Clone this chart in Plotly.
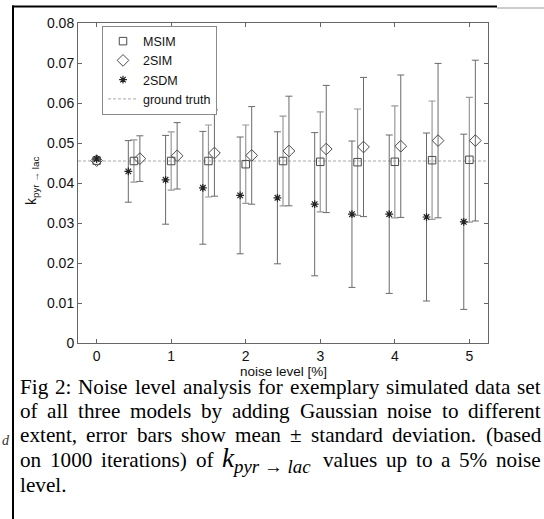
import plotly.graph_objects as go

# ---------------- data ----------------
noise_levels = [0, 0.5, 1.0, 1.5, 2.0, 2.5, 3.0, 3.5, 4.0, 4.5, 5.0]

msim_mean = [0.0456, 0.0455, 0.0455, 0.0455, 0.0447, 0.0455, 0.0453, 0.0452, 0.0453, 0.0457, 0.0458]
msim_std  = [0.0, 0.0053, 0.0073, 0.0090, 0.0098, 0.0112, 0.0125, 0.0133, 0.0140, 0.0148, 0.0156]

sim2_mean = [0.0456, 0.0461, 0.0468, 0.0475, 0.0469, 0.0480, 0.0485, 0.0490, 0.0492, 0.0506, 0.0506]
sim2_std  = [0.0, 0.0057, 0.0083, 0.0108, 0.0122, 0.0137, 0.0159, 0.0174, 0.0178, 0.0193, 0.0201]

sdm2_mean = [0.0460, 0.0429, 0.0408, 0.0388, 0.0369, 0.0363, 0.0347, 0.0322, 0.0322, 0.0315, 0.0303]
sdm2_std  = [0.0, 0.0077, 0.0111, 0.0141, 0.0146, 0.0165, 0.0179, 0.0183, 0.0198, 0.0210, 0.0219]

ground_truth = 0.0455

x_ticks = [0, 1, 2, 3, 4, 5]
y_ticks = [0, 0.01, 0.02, 0.03, 0.04, 0.05, 0.06, 0.07, 0.08]
x_range = [-0.25, 5.25]
y_range = [0, 0.08]

x_title = "noise level [%]"
y_title = "k<sub>pyr \u2192 lac</sub>"

dodge = {"MSIM": 0.0, "2SIM": 0.08, "2SDM": -0.075}

caption_lines = [
    "Fig 2: Noise level analysis for exemplary simulated data set",
    "of all three models by adding Gaussian noise to different",
    "extent, error bars show mean \u00b1 standard deviation. (based",
    "on 1000 iterations) of @MATH@ values up to a 5% noise",
    "level.",
]

# ---------------- layout geometry ----------------
W, H = 544, 519
ML, MR, MT, MB = 78, 56, 23, 176
PW, PH = W - ML - MR, H - MT - MB


def px(xp):
    return (xp - ML) / PW


def py(yp):
    return (H - MB - yp) / PH


def dodged(name):
    off = dodge[name]
    return [n + (off if n > 0 else 0.0) for n in noise_levels]


fig = go.Figure()

SANS = "Liberation Sans, Arial, Helvetica, sans-serif"
SERIF = "Liberation Serif, Times New Roman, serif"

# ground truth line (spans the x range)
fig.add_trace(go.Scatter(
    x=x_range, y=[ground_truth, ground_truth], mode="lines",
    line=dict(color="#a8a8a8", width=1, dash="3px,2px"),
    name="ground truth", showlegend=False, hoverinfo="skip"))

err_light = dict(type="data", visible=True, color="#9a9a9a", thickness=1.2, width=3.5)
err_dark = dict(type="data", visible=True, color="#6a6a6a", thickness=1, width=3.5)

fig.add_trace(go.Scatter(
    x=dodged("MSIM"), y=msim_mean, mode="markers", name="MSIM",
    error_y=dict(array=msim_std, **err_light),
    marker=dict(symbol="square-open", size=7.5, color="#4a4a4a", line=dict(width=1))))
fig.add_trace(go.Scatter(
    x=dodged("2SIM"), y=sim2_mean, mode="markers", name="2SIM",
    error_y=dict(array=sim2_std, **err_dark),
    marker=dict(symbol="diamond-open", size=9, color="#4a4a4a", line=dict(width=1))))
fig.add_trace(go.Scatter(
    x=dodged("2SDM"), y=sdm2_mean, mode="markers", name="2SDM",
    error_y=dict(array=sdm2_std, **err_dark),
    marker=dict(symbol="asterisk-open", size=6.5, color="#222222", line=dict(width=1.2))))
# legend entry for ground truth, after markers
fig.add_trace(go.Scatter(
    x=[None], y=[None], mode="lines", name="ground truth",
    line=dict(color="#a8a8a8", width=1, dash="3px,2px")))

fig.update_layout(
    width=W, height=H,
    margin=dict(l=ML, r=MR, t=MT, b=MB, pad=0, autoexpand=False),
    paper_bgcolor="white", plot_bgcolor="white",
    font=dict(family=SANS, size=14, color="#111"),
    showlegend=True,
    legend=dict(x=px(102), y=py(25.5), xanchor="left", yanchor="top",
                bgcolor="white", bordercolor="#8a8a8a", borderwidth=1,
                font=dict(family=SANS, size=12.5, color="#111"),
                tracegroupgap=0),
    xaxis=dict(range=x_range, tickvals=x_ticks, ticktext=[str(v) for v in x_ticks],
               ticks="inside", ticklen=4, tickcolor="#666", showline=True,
               linecolor="#666", linewidth=1, mirror="ticks", showgrid=False,
               zeroline=False, tickfont=dict(size=14), automargin=False),
    yaxis=dict(range=y_range, tickvals=y_ticks,
               ticktext=["0"] + ["%.2f" % v for v in y_ticks[1:]],
               ticks="inside", ticklen=4, tickcolor="#666", showline=True,
               linecolor="#666", linewidth=1, mirror="ticks", showgrid=False,
               zeroline=False, tickfont=dict(size=14), automargin=False),
)

# ---------------- page decorations ----------------
shapes = [
    dict(type="line", xref="paper", yref="paper", x0=px(13), x1=px(13), y0=py(5.5), y1=py(519),
         line=dict(color="black", width=2)),
    dict(type="line", xref="paper", yref="paper", x0=px(12), x1=px(497), y0=py(6.5), y1=py(6.5),
         line=dict(color="black", width=2)),
    dict(type="line", xref="paper", yref="paper", x0=px(497), x1=px(544), y0=py(8), y1=py(8),
         line=dict(color="#9a9a9a", width=1)),
]
fig.update_layout(shapes=shapes)

annotations = []
# axis titles
annotations.append(dict(
    text=x_title, xref="paper", yref="paper", x=0.5, y=py(371),
    xanchor="center", yanchor="middle", showarrow=False, borderpad=0,
    font=dict(family=SANS, size=13.5, color="#111")))
annotations.append(dict(
    text=y_title, xref="paper", yref="paper", x=px(32), y=py(181),
    xanchor="center", yanchor="middle", showarrow=False, textangle=-90,
    font=dict(family=SANS, size=14, color="#111")))

# ---------------- caption (justified, word by word) ----------------
TW = {' ': 250, '(': 333, ')': 333, ',': 250, '.': 250, ':': 278, '%': 833, '\u00b1': 564,
      'F': 556, 'G': 722, 'N': 722,
      'a': 444, 'b': 500, 'c': 444, 'd': 500, 'e': 444, 'f': 333, 'g': 500, 'h': 500,
      'i': 278, 'j': 278, 'k': 500, 'l': 278, 'm': 778, 'n': 500, 'o': 500, 'p': 500,
      'q': 500, 'r': 333, 's': 389, 't': 278, 'u': 500, 'v': 500, 'w': 722, 'x': 500,
      'y': 500, 'z': 444}
for dgt in "0123456789":
    TW[dgt] = 500

CAP_FS = 21.2
MATH_FS = 27
MATH_W = 92
LEFT, RIGHT = 19, 540
line_y = [387, 411, 435, 459.5, 485]


def word_w(wd):
    if wd == "@MATH@":
        return MATH_W
    return sum(TW.get(c, 500) for c in wd) / 1000.0 * CAP_FS


for i, line in enumerate(caption_lines):
    words = line.split(" ")
    widths = [word_w(w) for w in words]
    last = (i == len(caption_lines) - 1)
    if last or len(words) == 1:
        gap = 0.25 * CAP_FS
    else:
        gap = (RIGHT - LEFT - sum(widths)) / (len(words) - 1)
    xcur = LEFT
    for w, wd in zip(words, widths):
        if w == "@MATH@":
            txt = "<i>k</i><sub><i>pyr \u2192 lac</i></sub>"
            fs = MATH_FS
        else:
            txt = w
            fs = CAP_FS
        annotations.append(dict(
            text=txt, xref="paper", yref="paper", x=px(xcur), y=py(line_y[i]),
            xanchor="left", yanchor="middle", showarrow=False, borderpad=0,
            font=dict(family=SERIF, size=fs, color="black")))
        xcur += wd + gap

annotations.append(dict(
    text="<i>d</i>", xref="paper", yref="paper", x=px(0), y=py(440),
    xanchor="left", yanchor="middle", showarrow=False,
    font=dict(family=SERIF, size=14, color="#333")))

fig.update_layout(annotations=annotations)

fig.write_html(
    "out.html",
    config={"displayModeBar": False},
    post_script="document.body.style.margin='0px';"
                "document.documentElement.style.overflow='hidden';"
                "document.body.style.overflow='hidden';")
